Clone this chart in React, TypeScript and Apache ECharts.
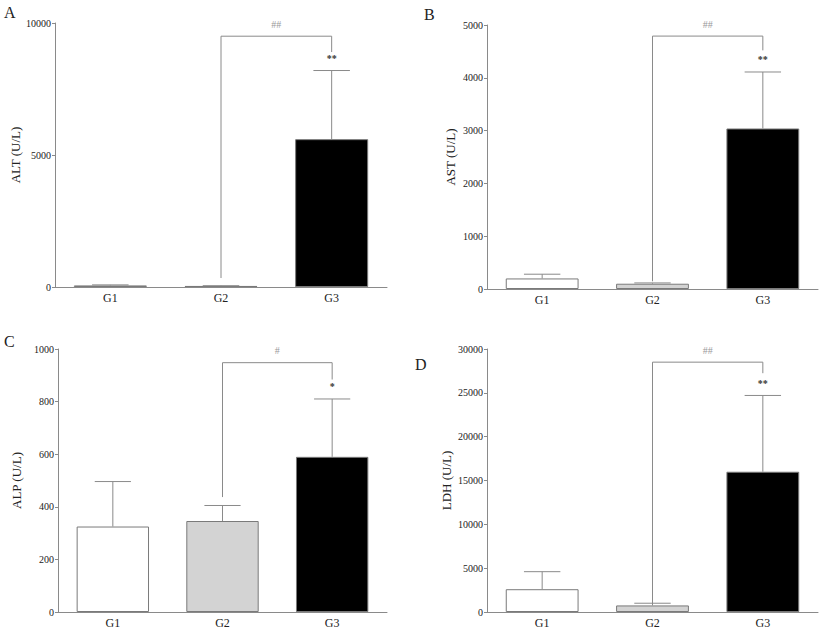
import React, { useEffect, useRef } from "react";
import * as echarts from "echarts";

const categories = ["G1", "G2", "G3"];
const panelLetters = ["A", "B", "C", "D"];
const yNames = ["ALT (U/L)", "AST (U/L)", "ALP (U/L)", "LDH (U/L)"];
const yMax = [10000, 5000, 1000, 30000];
const yInterval = [5000, 1000, 200, 5000];

const altMean = [60, 40, 5600];
const altErr = [80, 50, 8200];
const astMean = [200, 100, 3040];
const astErr = [280, 115, 4110];
const alpMean = [325, 346, 590];
const alpErr = [496, 405, 810];
const ldhMean = [2600, 750, 16000];
const ldhErr = [4600, 1000, 24700];

// bracket: [top, G2 end, G3 end]
const altBracket = [9500, 340, 8900];
const astBracket = [4790, 146, 4520];
const alpBracket = [948, 437, 884];
const ldhBracket = [28500, 830, 27240];

const hashLabels = ["##", "##", "#", "##"];
const starLabels = ["**", "**", "*", "**"];

const barFills = ["#ffffff", "#d3d3d3", "#000000"];

const means = [altMean, astMean, alpMean, ldhMean];
const errs = [altErr, astErr, alpErr, ldhErr];
const brackets = [altBracket, astBracket, alpBracket, ldhBracket];

const FONT = "Liberation Serif";
const LINE = "#8a8a8a";

const grids = [
  { left: 55, top: 23, width: 332, height: 264 },
  { left: 487, top: 25, width: 331, height: 264 },
  { left: 58, top: 349, width: 329, height: 265 },
  { left: 487, top: 349, width: 331, height: 264 },
];
const nameGaps = [32, 30, 35, 34];
const letterPos = [
  [4, 4],
  [424, 6],
  [4, 333],
  [415, 356],
];

export default function App() {
  const ref = useRef<HTMLDivElement>(null);
  useEffect(() => {
    document.body.style.margin = "0";
    const chart = echarts.init(ref.current!, null, { renderer: "svg" });
    const series: any[] = [];
    for (let p = 0; p < 4; p++) {
      series.push({
        type: "bar",
        xAxisIndex: p,
        yAxisIndex: p,
        barWidth: "66%",
        data: means[p].map((v, i) => ({
          value: v,
          itemStyle: { color: barFills[i], borderColor: "#7a7a7a", borderWidth: 1 },
        })),
        z: 2,
      });
      const pi = p;
      series.push({
        type: "custom",
        xAxisIndex: p,
        yAxisIndex: p,
        z: 3,
        data: means[p].map((v, i) => [i, v, errs[p][i]]),
        renderItem: (params: any, api: any) => {
          const x = api.value(0);
          const v = api.value(1);
          const e = api.value(2);
          const p0 = api.coord([x, v]);
          const p1 = api.coord([x, e]);
          const w = api.size([1, 0])[0] * 0.33;
          const children: any[] = [
            {
              type: "line",
              shape: { x1: p0[0], y1: p0[1], x2: p1[0], y2: p1[1] },
              style: { stroke: LINE, lineWidth: 1 },
            },
            {
              type: "line",
              shape: { x1: p1[0] - w / 2, y1: p1[1], x2: p1[0] + w / 2, y2: p1[1] },
              style: { stroke: LINE, lineWidth: 1 },
            },
          ];
          if (params.dataIndex === 2) {
            children.push({
              type: "text",
              style: {
                text: starLabels[pi],
                x: p1[0],
                y: p1[1] - 12,
                align: "center",
                verticalAlign: "middle",
                fill: "#333",
                fontFamily: FONT,
                fontSize: 10,
                fontWeight: "bold",
              },
            });
          }
          return { type: "group", children };
        },
      });
      series.push({
        type: "custom",
        xAxisIndex: p,
        yAxisIndex: p,
        z: 4,
        data: [[1, brackets[p][0], brackets[p][1], brackets[p][2]]],
        renderItem: (params: any, api: any) => {
          const top = api.value(1);
          const l = api.value(2);
          const r = api.value(3);
          const a = api.coord([1, top]);
          const b = api.coord([2, top]);
          const la = api.coord([1, l]);
          const rb = api.coord([2, r]);
          return {
            type: "group",
            children: [
              {
                type: "polyline",
                shape: { points: [[la[0], la[1]], [a[0], a[1]], [b[0], b[1]], [rb[0], rb[1]]] },
                style: { stroke: LINE, lineWidth: 1, fill: null },
              },
              {
                type: "text",
                style: {
                  text: hashLabels[pi],
                  x: (a[0] + b[0]) / 2,
                  y: a[1] - 12,
                  align: "center",
                  verticalAlign: "middle",
                  fill: "#999",
                  fontFamily: FONT,
                  fontSize: 10,
                },
              },
            ],
          };
        },
      });
    }
    chart.setOption({
      animation: false,
      backgroundColor: "#ffffff",
      grid: grids.map((g) => ({ ...g, containLabel: false })),
      xAxis: grids.map((_, i) => ({
        type: "category",
        gridIndex: i,
        data: categories,
        axisLine: { lineStyle: { color: LINE, width: 1 } },
        axisTick: { show: false },
        axisLabel: { color: "#222", fontFamily: FONT, fontSize: 12, margin: 5 },
      })),
      yAxis: grids.map((_, i) => ({
        type: "value",
        gridIndex: i,
        min: 0,
        max: yMax[i],
        interval: yInterval[i],
        name: yNames[i],
        nameLocation: "middle",
        nameGap: nameGaps[i],
        nameTextStyle: { color: "#222", fontFamily: FONT, fontSize: 13 },
        axisLine: { show: true, lineStyle: { color: LINE, width: 1 } },
        axisTick: { show: true, length: 3, lineStyle: { color: LINE } },
        splitLine: { show: false },
        axisLabel: {
          color: "#222",
          fontFamily: FONT,
          fontSize: 10,
          margin: 4,
          formatter: (v: number) => String(v),
        },
      })),
      graphic: panelLetters.map((t, i) => ({
        type: "text",
        left: letterPos[i][0],
        top: letterPos[i][1],
        style: { text: t, fill: "#222", fontFamily: FONT, fontSize: 16 },
      })),
      series,
    });
    return () => chart.dispose();
  }, []);
  return <div ref={ref} style={{ width: 827, height: 629 }} />;
}
